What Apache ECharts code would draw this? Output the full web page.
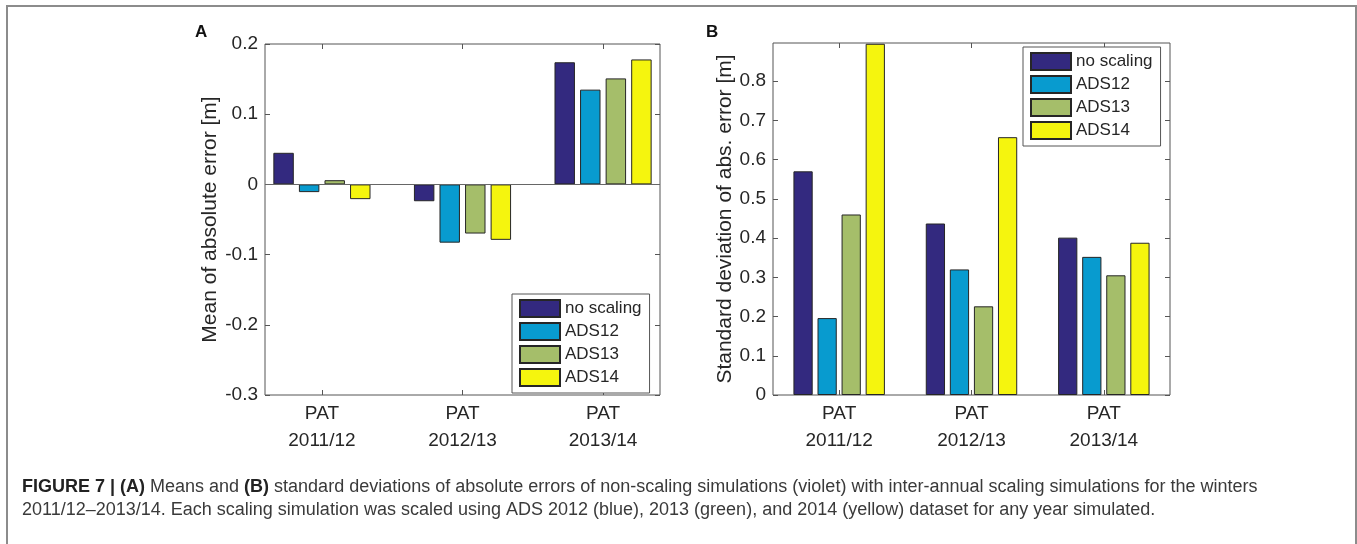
<!DOCTYPE html>
<html>
<head>
<meta charset="utf-8">
<script src="https://cdn.jsdelivr.net/npm/echarts@6/dist/echarts.min.js"></script>
<style>
  html, body { margin: 0; padding: 0; background: #fff; }
  #chart { position: absolute; left: 0; top: 0; width: 1357px; height: 544px; }
  #frame {
    position: absolute; left: 6px; top: 5px; width: 1347px; height: 600px;
    border: 2px solid #8c8c8c; border-bottom: none; pointer-events: none;
  }
</style>
</head>
<body>
<div id="chart"></div>
<div id="frame"></div>
<script>
// data
const categories = ["PAT\n2011/12", "PAT\n2012/13", "PAT\n2013/14"];
const groupPos = [1, 2, 3];
const seriesNames = ["no scaling", "ADS12", "ADS13", "ADS14"];
const seriesColors = ["#33297f", "#089bcf", "#a5be6a", "#f5f50e"];

// (A) mean of absolute error [m]
const meanNoScaling = [0.045, -0.024, 0.174];
const meanADS12 = [-0.011, -0.083, 0.135];
const meanADS13 = [0.006, -0.070, 0.151];
const meanADS14 = [-0.021, -0.079, 0.178];

// (B) standard deviation of abs. error [m]
const sdNoScaling = [0.570, 0.437, 0.401];
const sdADS12 = [0.196, 0.320, 0.352];
const sdADS13 = [0.460, 0.226, 0.305];
const sdADS14 = [0.895, 0.657, 0.388];

const yTicksA = [-0.3, -0.2, -0.1, 0, 0.1, 0.2];
const yTicksB = [0, 0.1, 0.2, 0.3, 0.4, 0.5, 0.6, 0.7, 0.8];

const FONT = "'Liberation Sans', Arial, Helvetica, sans-serif";
const AXIS_COLOR = "#555";
const TEXT_COLOR = "#262626";

const tickStyle = (vals) => ({
  show: true, inside: true, length: 5, customValues: vals,
  lineStyle: { color: AXIS_COLOR, width: 1 },
});

// bottom + top x axes of one panel (top one only carries the ticks)
function makeXAxes(gridIndex, min, max) {
  const base = {
    type: "value", gridIndex: gridIndex, min: min, max: max,
    splitLine: { show: false },
    axisLine: { show: false, onZero: false },
    axisTick: tickStyle(groupPos),
  };
  return [
    Object.assign({}, base, {
      position: "bottom",
      axisLabel: {
        customValues: groupPos,
        formatter: (v) => categories[Math.round(v) - 1],
        fontSize: 19, lineHeight: 27, margin: 5,
        color: TEXT_COLOR, fontFamily: FONT,
      },
    }),
    Object.assign({}, base, { position: "top", axisLabel: { show: false } }),
  ];
}

// left + right y axes of one panel
function makeYAxes(gridIndex, min, max, ticks, name, nameGap) {
  const base = {
    type: "value", gridIndex: gridIndex, min: min, max: max,
    splitLine: { show: false },
    axisLine: { show: false, onZero: false },
    axisTick: tickStyle(ticks),
  };
  return [
    Object.assign({}, base, {
      position: "left",
      name: name, nameLocation: "middle", nameGap: nameGap,
      nameTextStyle: { fontSize: 21, color: TEXT_COLOR, fontFamily: FONT },
      axisLabel: {
        customValues: ticks,
        formatter: (v) => String(v),
        fontSize: 19, margin: 7, color: TEXT_COLOR, fontFamily: FONT,
      },
    }),
    Object.assign({}, base, { position: "right", axisLabel: { show: false } }),
  ];
}

function barSeries(name, vals, axisIndex, color) {
  return {
    name: name, type: "bar",
    xAxisIndex: axisIndex, yAxisIndex: axisIndex,
    data: groupPos.map((x, i) => [x, vals[i]]),
    barWidth: "14.55%", barGap: "25%",
    itemStyle: { color: color, borderColor: "#262626", borderWidth: 1 },
  };
}

const seriesA = [meanNoScaling, meanADS12, meanADS13, meanADS14]
  .map((vals, i) => barSeries(seriesNames[i], vals, 0, seriesColors[i]));
const seriesB = [sdNoScaling, sdADS12, sdADS13, sdADS14]
  .map((vals, i) => barSeries(seriesNames[i], vals, 2, seriesColors[i]));

// zero baseline in panel A
seriesA[3].markLine = {
  silent: true, symbol: "none", label: { show: false },
  lineStyle: { color: "#666", width: 1, type: "solid" },
  data: [{ yAxis: 0 }],
};

const legendBase = {
  orient: "vertical", data: seriesNames, icon: "rect",
  itemWidth: 40, itemHeight: 17, itemGap: 4,
  padding: [5, 8, 6, 7],
  borderColor: AXIS_COLOR, borderWidth: 1, backgroundColor: "#fff",
  selectedMode: false,
  textStyle: { fontSize: 17, color: TEXT_COLOR, fontFamily: FONT },
};

const caption =
  "{b|FIGURE 7 | (A)} Means and {b|(B)} standard deviations of absolute errors of non-scaling simulations (violet) with inter-annual scaling simulations for the winters\n" +
  "2011/12\u20132013/14. Each scaling simulation was scaled using ADS 2012 (blue), 2013 (green), and 2014 (yellow) dataset for any year simulated.";

const option = {
  animation: false,
  backgroundColor: "#fff",
  title: [
    { text: "A", left: 195, top: 24, padding: 0,
      textStyle: { fontSize: 17, fontWeight: "bold", color: "#111", fontFamily: FONT } },
    { text: "B", left: 706, top: 24, padding: 0,
      textStyle: { fontSize: 17, fontWeight: "bold", color: "#111", fontFamily: FONT } },
    { text: caption, left: 22, top: 476, padding: 0,
      textStyle: {
        fontSize: 18, lineHeight: 23, fontWeight: "normal", color: "#3a3a3a", fontFamily: FONT,
        rich: { b: { fontSize: 18, lineHeight: 23, fontWeight: "bold", color: "#222", fontFamily: FONT } },
      } },
  ],
  legend: [
    Object.assign({}, legendBase, { left: 512, top: 294 }),
    Object.assign({}, legendBase, { left: 1023, top: 47 }),
  ],
  grid: [
    { left: 265, top: 44, width: 395, height: 351, show: true,
      borderColor: AXIS_COLOR, borderWidth: 1, backgroundColor: "transparent" },
    { left: 773, top: 43, width: 397, height: 352, show: true,
      borderColor: AXIS_COLOR, borderWidth: 1, backgroundColor: "transparent" },
  ],
  xAxis: makeXAxes(0, 0.595, 3.405).concat(makeXAxes(1, 0.5, 3.5)),
  yAxis: makeYAxes(0, -0.3, 0.2, yTicksA, "Mean of absolute error [m]", 44)
    .concat(makeYAxes(1, 0, 0.897, yTicksB, "Standard deviation of abs. error [m]", 37)),
  series: seriesA.concat(seriesB),
};

const chart = echarts.init(document.getElementById("chart"));
chart.setOption(option);
</script>
</body>
</html>
